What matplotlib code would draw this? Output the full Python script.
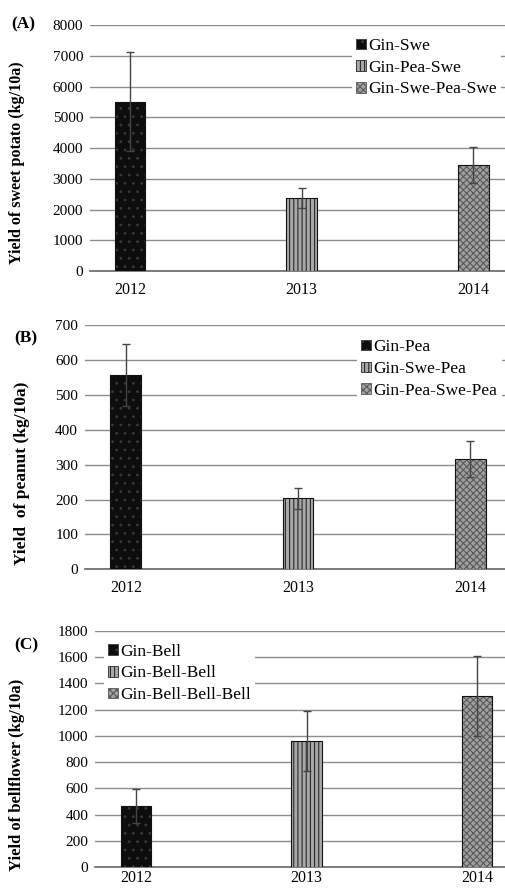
import numpy as np
import matplotlib.pyplot as plt

plt.rcParams['font.family'] = ['Liberation Serif', 'DejaVu Serif']
plt.rcParams['hatch.linewidth'] = 0.8

years = ['2012', '2013', '2014']

# (A) sweet potato
swe_labels = ['Gin-Swe', 'Gin-Pea-Swe', 'Gin-Swe-Pea-Swe']
swe_yield = [5500, 2380, 3450]
swe_err = [1610, 330, 590]

# (B) peanut
pea_labels = ['Gin-Pea', 'Gin-Swe-Pea', 'Gin-Pea-Swe-Pea']
pea_yield = [557, 203, 316]
pea_err = [88, 29, 52]

# (C) bellflower
bell_labels = ['Gin-Bell', 'Gin-Bell-Bell', 'Gin-Bell-Bell-Bell']
bell_yield = [466, 961, 1306]
bell_err = [127, 228, 305]

fills = [
    dict(facecolor='#0d0d0d', edgecolor='#3a3a3a', hatch='..'),
    dict(facecolor='#a8a8a8', edgecolor='#2a2a2a', hatch='||||'),
    dict(facecolor='#a0a0a0', edgecolor='#5a5a5a', hatch='xxxxx'),
]

fig = plt.figure(figsize=(5.06, 8.9), dpi=100)


def panel(rect, vals, errs, labels, ymax, ystep, xlim, ylabel, ylab_pos,
          ylab_size, tag, leg_kw, xpad=8):
    ax = fig.add_axes(rect)
    x = np.arange(len(vals))
    handles = []
    for i in range(len(vals)):
        b = ax.bar(x[i], vals[i], width=0.18, linewidth=0.6, zorder=3, **fills[i])
        ax.bar(x[i], vals[i], width=0.18, fill=False, edgecolor='#111111',
               linewidth=0.8, zorder=4)
        handles.append(b)
    ax.errorbar(x, vals, yerr=errs, fmt='none', ecolor='#444444',
                elinewidth=1.0, capsize=3, capthick=1.0, zorder=5)
    ax.set_xlim(*xlim)
    ax.set_ylim(0, ymax)
    ax.set_yticks(np.arange(0, ymax + 1, ystep))
    ax.set_xticks(x)
    ax.set_xticklabels(years, fontsize=11.5)
    ax.tick_params(axis='y', labelsize=11, length=0, pad=5)
    ax.tick_params(axis='x', length=0, pad=xpad)
    ax.yaxis.grid(True, color='#8c8c8c', linewidth=1.0, zorder=0)
    ax.set_axisbelow(True)
    for s in ['left', 'right', 'top']:
        ax.spines[s].set_visible(False)
    ax.spines['bottom'].set_color('#666666')
    ax.spines['bottom'].set_linewidth(1.2)
    ax.set_ylabel(ylabel, fontsize=ylab_size, fontweight='bold')
    ax.yaxis.set_label_coords(*ylab_pos)
    leg = ax.legend(handles, labels, frameon=True, fancybox=False,
                    facecolor='white', edgecolor='none', framealpha=1,
                    fontsize=12.5, handlelength=0.55, handleheight=0.55,
                    handletextpad=0.15, labelspacing=0.33, borderpad=0.25,
                    **leg_kw)
    leg.set_zorder(6)
    fig.text(tag[0], tag[1], tag[2], fontsize=12.5, fontweight='bold',
             ha='left', va='center')
    return ax


panel([0.178, 0.6955, 0.822, 0.2764], swe_yield, swe_err, swe_labels,
      8000, 1000, (-0.233, 2.192), 'Yield of sweet potato (kg/10a)',
      (-0.156, 0.44), 11.6,
      (0.022, 0.9730, '(A)'),
      dict(loc='upper right', bbox_to_anchor=(1.01, 1.0)))

panel([0.168, 0.3603, 0.832, 0.2745], pea_yield, pea_err, pea_labels,
      700, 100, (-0.238, 2.209), 'Yield  of peanut (kg/10a)',
      (-0.131, 0.394), 12.5,
      (0.028, 0.6200, '(B)'),
      dict(loc='upper right', bbox_to_anchor=(1.01, 0.995)))

panel([0.188, 0.0255, 0.812, 0.2658], bell_yield, bell_err, bell_labels,
      1800, 200, (-0.24, 2.17), 'Yield of bellflower (kg/10a)',
      (-0.17, 0.39), 12,
      (0.028, 0.2750, '(C)'),
      dict(loc='upper left', bbox_to_anchor=(0.0, 1.0)), xpad=2)

fig.savefig('out.png', dpi=100)
